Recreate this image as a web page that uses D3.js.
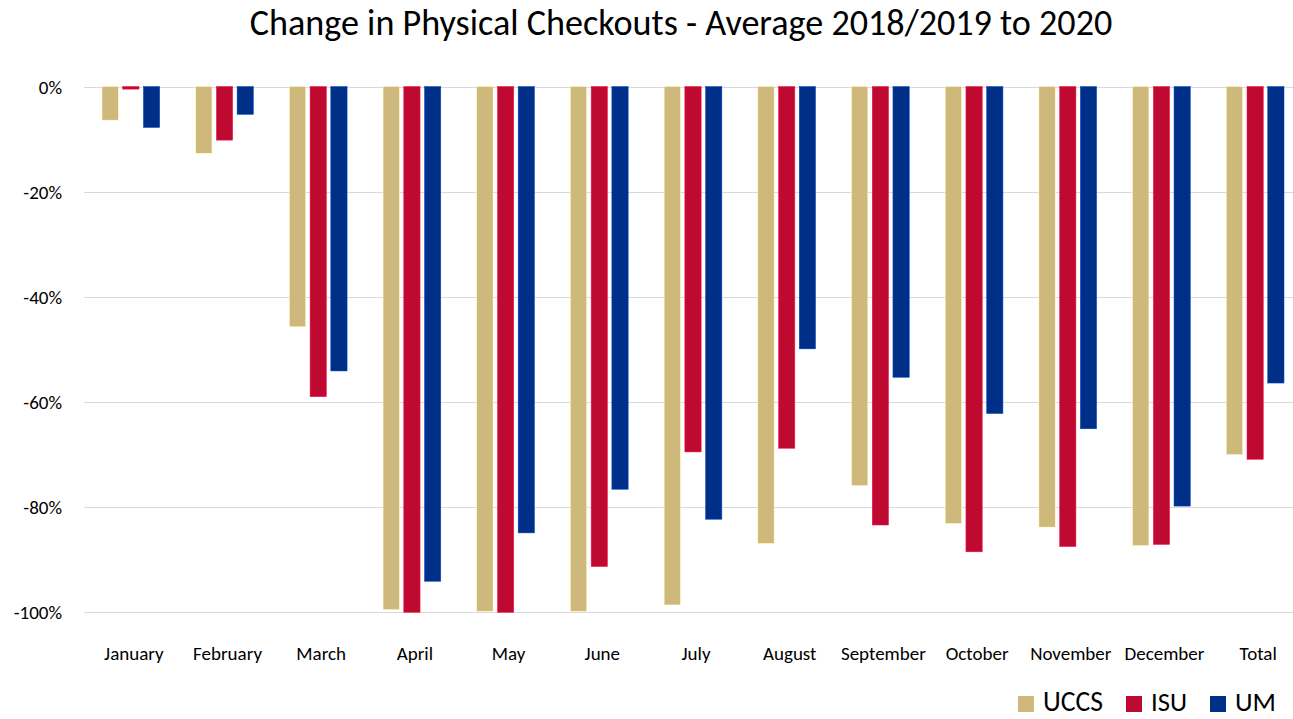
<!DOCTYPE html>
<html>
<head>
<meta charset="utf-8">
<script src="https://cdn.jsdelivr.net/npm/d3@7"></script>
<style>
  body { margin: 0; background: #fff; }
  svg { display: block; font-family: Carlito, Lato, "Open Sans", sans-serif; }
</style>
</head>
<body>
<svg id="chart" width="1293" height="719"></svg>
<script>
const categories = ["January","February","March","April","May","June","July","August","September","October","November","December","Total"];
const seriesNames = ["UCCS","ISU","UM"];
const uccs = [-6.4,-12.7,-45.7,-99.5,-99.8,-99.8,-98.6,-86.9,-75.9,-83.1,-83.8,-87.3,-70.0];
const isu  = [-0.5,-10.2,-59.0,-100,-100,-91.3,-69.5,-68.8,-83.4,-88.5,-87.5,-87.1,-70.9];
const um   = [-7.8,-5.3,-54.1,-94.1,-84.9,-76.6,-82.3,-49.9,-55.3,-62.2,-65.1,-79.8,-56.4];
const yTicks = [0,-20,-40,-60,-80,-100];
const colors = ["#CFB87C","#BE0A30","#002F87"];
const title = "Change in Physical Checkouts - Average 2018/2019 to 2020";

const values = [uccs, isu, um];
const svg = d3.select("#chart");

const x = d3.scaleBand().domain(categories).range([84, 1302]).paddingInner(0).paddingOuter(0);
const y = d3.scaleLinear().domain([-100, 0]).range([612.3, 86.5]);
const bw = x.bandwidth();
// inner group scale: bars 16.3px wide, pitch 20.7px, starting 18px into each band
const xs = d3.scaleBand().domain(seriesNames)
  .range([bw * 0.192, bw * 0.808])
  .paddingInner(0.213).paddingOuter(0);

function fit(sel, w) {
  sel.each(function() {
    const len = this.getComputedTextLength();
    const fs = parseFloat(d3.select(this).attr("font-size"));
    d3.select(this).attr("font-size", fs * w / len);
  });
}

// gridlines
svg.append("g").selectAll("line").data(yTicks).join("line")
  .attr("x1", 84).attr("x2", 1302)
  .attr("y1", d => Math.round(y(d)) + 0.5).attr("y2", d => Math.round(y(d)) + 0.5)
  .attr("stroke", "#d9d9d9").attr("stroke-width", 1);

// y axis labels
const yAxis = d3.axisLeft(y).tickValues(yTicks).tickFormat(d => d + "%").tickSize(0).tickPadding(0);
const ya = svg.append("g").attr("transform", "translate(62,0)").call(yAxis);
ya.select(".domain").remove();
ya.selectAll("text").attr("font-size", 19).attr("fill", "#000").attr("font-family", "Carlito, Lato, sans-serif").attr("dy", "0.35em");

// bars
seriesNames.forEach((s, si) => {
  svg.append("g").selectAll("rect").data(categories).join("rect")
    .attr("x", d => x(d) + xs(s))
    .attr("width", xs.bandwidth())
    .attr("y", y(0))
    .attr("height", (d, i) => y(values[si][i]) - y(0))
    .attr("fill", colors[si])
    .attr("stroke", d3.color(colors[si]).brighter(1.2))
    .attr("stroke-width", 0.5);
});

// x labels
const xAxis = d3.axisBottom(x).tickSize(0).tickPadding(0);
const xa = svg.append("g").attr("transform", "translate(3,653)").call(xAxis);
xa.select(".domain").remove();
xa.selectAll("text").attr("font-size", 19).attr("fill", "#000").attr("font-family", "Carlito, Lato, sans-serif").attr("dy", "0.35em");

// title
svg.append("text").attr("x", 681).attr("y", 35).attr("text-anchor", "middle")
  .attr("font-size", 30).attr("fill", "#000").text(title).call(fit, 863);

// legend
const legX = [1018, 1126, 1210];
const legW = [60, 36, 41];
const leg = svg.append("g");
seriesNames.forEach((s, i) => {
  leg.append("rect").attr("x", legX[i]).attr("y", 696).attr("width", 16).attr("height", 16).attr("fill", colors[i]);
  leg.append("text").attr("x", legX[i] + 25).attr("y", 711)
    .attr("font-size", 24).attr("fill", "#000").text(s).call(fit, legW[i]);
});
</script>
</body>
</html>
